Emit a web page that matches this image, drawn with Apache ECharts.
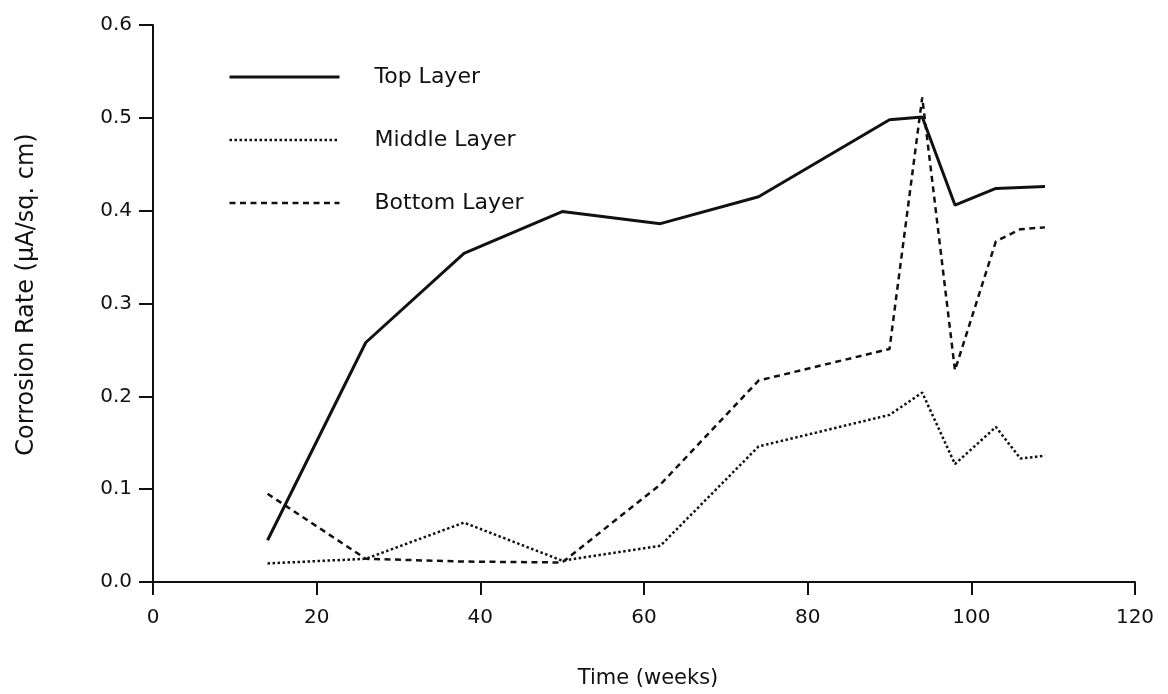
<!DOCTYPE html>
<html>
<head>
<meta charset="utf-8">
<title>Corrosion Rate vs Time</title>
<script src="https://cdn.jsdelivr.net/npm/echarts@6/dist/echarts.min.js"></script>
<style>
  html, body { margin: 0; padding: 0; background: #fff; }
  #chart { width: 1168px; height: 694px; }
</style>
</head>
<body>
<div id="chart"></div>
<script>
// Sampling times (weeks)
const topWeeks = [14, 26, 38, 50, 62, 74, 90, 94, 98, 103, 109];
const layerWeeks = [14, 26, 38, 50, 62, 74, 90, 94, 98, 103, 106, 109];

// Corrosion rate (µA/sq. cm) per concrete layer
const topLayer = [0.045, 0.258, 0.354, 0.399, 0.386, 0.415, 0.498, 0.501, 0.406, 0.424, 0.426];
const middleLayer = [0.020, 0.025, 0.064, 0.023, 0.039, 0.146, 0.180, 0.204, 0.127, 0.167, 0.133, 0.136];
const bottomLayer = [0.095, 0.025, 0.022, 0.021, 0.105, 0.217, 0.251, 0.522, 0.228, 0.367, 0.380, 0.382];

const seriesNames = ['Top Layer', 'Middle Layer', 'Bottom Layer'];

const FONT = 'DejaVu Sans';
const INK = '#111';

const pair = (xs, ys) => xs.map((x, i) => [x, ys[i]]);

const chart = echarts.init(document.getElementById('chart'), null, { renderer: 'canvas' });

chart.setOption({
  backgroundColor: '#fff',
  animation: false,
  grid: { left: 153, right: 33, top: 25, bottom: 111, containLabel: false },
  legend: {
    orient: 'vertical',
    left: 228,
    top: 66,
    padding: 0,
    itemWidth: 110,
    itemHeight: 14,
    itemGap: 41,
    data: seriesNames,
    // line-only keys: hide the marker dot
    itemStyle: { opacity: 0 },
    lineStyle: { width: 'inherit' },
    textStyle: { fontFamily: FONT, fontSize: 22, color: INK, padding: [0, 0, 0, 30] }
  },
  xAxis: {
    type: 'value',
    min: 0,
    max: 120,
    interval: 20,
    name: 'Time (weeks)',
    nameLocation: 'middle',
    nameGap: 86,
    nameTextStyle: { fontFamily: FONT, fontSize: 21, color: INK, padding: [0, 0, 0, 8] },
    axisLine: { show: true, onZero: false, lineStyle: { color: INK, width: 2 } },
    axisTick: { show: true, inside: false, length: 13, lineStyle: { color: INK, width: 2 } },
    axisLabel: { fontFamily: FONT, fontSize: 20, color: INK, margin: 26 },
    splitLine: { show: false }
  },
  yAxis: {
    type: 'value',
    min: 0,
    max: 0.6,
    interval: 0.1,
    name: 'Corrosion Rate (µA/sq. cm)',
    nameLocation: 'middle',
    nameGap: 114,
    nameRotate: 90,
    nameTextStyle: { fontFamily: FONT, fontSize: 24, color: INK, padding: [0, 0, 0, 18] },
    axisLine: { show: true, onZero: false, lineStyle: { color: INK, width: 2 } },
    axisTick: { show: true, inside: false, length: 14, lineStyle: { color: INK, width: 2 } },
    axisLabel: {
      fontFamily: FONT, fontSize: 20, color: INK, margin: 21,
      formatter: v => v.toFixed(1)
    },
    splitLine: { show: false }
  },
  series: [
    {
      name: seriesNames[0],
      type: 'line',
      data: pair(topWeeks, topLayer),
      symbol: 'none',
      lineStyle: { color: INK, width: 3, type: 'solid' },
      itemStyle: { color: INK }
    },
    {
      name: seriesNames[1],
      type: 'line',
      data: pair(layerWeeks, middleLayer),
      symbol: 'none',
      lineStyle: { color: INK, width: 2.5, type: [2.5, 2.5] },
      itemStyle: { color: INK }
    },
    {
      name: seriesNames[2],
      type: 'line',
      data: pair(layerWeeks, bottomLayer),
      symbol: 'none',
      lineStyle: { color: INK, width: 2.5, type: [6, 4.5] },
      itemStyle: { color: INK }
    }
  ]
});
</script>
</body>
</html>
